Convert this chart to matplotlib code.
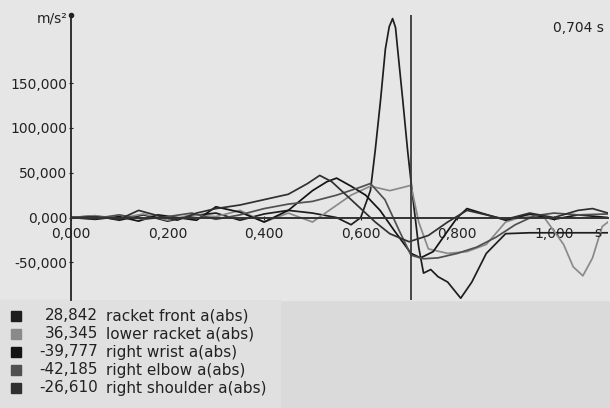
import numpy as np
import matplotlib.pyplot as plt

# acceleration traces, values (units as shown on the y axis)
t_front = [0, .05, .1, .15, .2, .25, .3, .35, .4, .45, .5, .55, .58, .6, .62, .63, .641, .651,
           .659, .666, .672, .676, .687, .697, .707, .72, .73, .745, .76, .78, .807, .83, .86,
           .9, .95, 1.0, 1.05, 1.112]
v_front = [0, 2, -3, 3, -4, 2, 5, -3, 4, 8, 5, 0, -8, 0, 30, 75, 131, 188,
           213, 222, 212, 190, 131, 75, 26, -33, -62, -58, -66, -72, -90, -72, -40,
           -18, -17, -17, -17, -17]

t_lower = [0, .05, .1, .15, .2, .25, .3, .35, .4, .45, .5, .54, .58, .62, .66, .69, .704, .72,
           .74, .78, .82, .86, .9, .94, .98, 1.02, 1.04, 1.06, 1.08, 1.1, 1.112]
v_lower = [0, 2, -1, 4, -3, 3, 1, 8, -5, 5, -5, 10, 25, 35, 30, 34, 36, -5,
           -35, -40, -38, -30, -5, 2, 0, -30, -55, -65, -45, -10, -5]

t_wrist = [0, .05, .1, .14, .18, .22, .26, .3, .35, .4, .45, .5, .53, .55, .58, .61, .64, .67,
           .704, .724, .75, .78, .8, .82, .85, .9, .95, 1.0, 1.05, 1.112]
v_wrist = [0, -2, 1, -4, 3, 0, -3, 12, 6, -5, 8, 30, 40, 44, 35, 25, 8, -15,
           -40, -45, -38, -15, 0, 10, 5, -3, 4, -2, 3, 0]

t_elbow = [0, .05, .1, .15, .2, .25, .3, .35, .4, .45, .5, .55, .6, .62, .65, .68, .704, .73,
           .76, .8, .84, .88, .92, .96, 1.0, 1.05, 1.112]
v_elbow = [0, -1, 3, -2, 1, 5, -2, 3, 10, 15, 18, 25, 34, 38, 20, -15, -42, -46,
           -45, -40, -33, -22, -8, 2, 5, 3, 4]

t_shoulder = [0, .05, .1, .14, .18, .22, .26, .3, .35, .4, .45, .49, .515, .54, .57, .6, .63, .66,
              .7, .74, .78, .82, .86, .9, .95, 1.0, 1.05, 1.08, 1.112]
v_shoulder = [0, 1, -2, 8, 2, -3, 5, 10, 14, 20, 26, 38, 47, 40, 25, 10, -5, -18,
              -27, -20, -5, 8, 3, -2, 5, 0, 8, 10, 5]

names = ['racket front a(abs)', 'lower racket a(abs)', 'right wrist a(abs)',
         'right elbow a(abs)', 'right shoulder a(abs)']
cursor_values = [28.842, 36.345, -39.777, -42.185, -26.610]
cursor_t = 0.704
colors = ['#1e1e1e', '#8a8a8a', '#141414', '#505050', '#303030']

x_ticks = [0, 0.2, 0.4, 0.6, 0.8, 1.0]
y_ticks = [-50, 0, 50, 100, 150]


def comma(v):
    return f'{v:.3f}'.replace('.', ',')


fig = plt.figure(figsize=(6.1, 4.08), dpi=100, facecolor='#dadada')
ax = fig.add_axes([71 / 610, 1 - 300 / 408, 537 / 610, 285 / 408])
ax.set_facecolor('#e6e6e6')

# plot area background extends to the left edge in the screenshot
fig.patches.append(plt.Rectangle((0, 1 - 300 / 408), 1, 300 / 408, transform=fig.transFigure,
                                 color='#e6e6e6', zorder=-1))
# lighter strip behind the legend rows
fig.patches.append(plt.Rectangle((0, 0), 280 / 610, 1 - 300 / 408, transform=fig.transFigure,
                                 color='#e0e0e0', zorder=-1))

series = [(t_front, v_front), (t_lower, v_lower), (t_wrist, v_wrist),
          (t_elbow, v_elbow), (t_shoulder, v_shoulder)]
for (t, v), c in zip(series, colors):
    ax.plot(t, v, color=c, lw=1.25)

ax.axvline(cursor_t, color='#3a3a3a', lw=1.3)

ax.set_xlim(0, 1.112)
ax.set_ylim(-92, 226)

for s in ['top', 'right']:
    ax.spines[s].set_visible(False)
ax.spines['bottom'].set_position(('data', 0))
ax.spines['bottom'].set_color('#333333')
ax.spines['bottom'].set_linewidth(1.4)
ax.spines['left'].set_color('#222222')
ax.spines['left'].set_linewidth(1.3)

ax.set_xticks(x_ticks)
ax.set_xticklabels([comma(x) for x in x_ticks])
ax.set_yticks(y_ticks)
ax.set_yticklabels([comma(y) for y in y_ticks])
ax.tick_params(axis='both', labelsize=10, colors='#222222', length=3, direction='inout')
ax.tick_params(axis='x', pad=5)
ax.tick_params(axis='y', pad=1)

ax.text(1.09, -9, 's', fontsize=10, color='#222222', ha='center', va='top')
ax.plot([0], [226], marker='o', ms=3, color='#222222', clip_on=False)
fig.text(68 / 610, 1 - 18 / 408, 'm/s²', fontsize=10, color='#222222', ha='right', va='center')
fig.text(604 / 610, 1 - 28 / 408, f'{comma(cursor_t)} s', fontsize=10, color='#222222',
         ha='right', va='center')

# legend block under the chart
for i, (nm, val, c) in enumerate(zip(names, cursor_values, colors)):
    y = 1 - (316 + i * 18) / 408
    fig.patches.append(plt.Rectangle((11 / 610, y - 5 / 408), 10 / 610, 10 / 408,
                                     transform=fig.transFigure, color=c))
    fig.text(98 / 610, y, comma(val), fontsize=11, color='#222222', ha='right', va='center')
    fig.text(106 / 610, y, nm, fontsize=11, color='#222222', ha='left', va='center')

fig.savefig('out.png', dpi=100, facecolor=fig.get_facecolor())
